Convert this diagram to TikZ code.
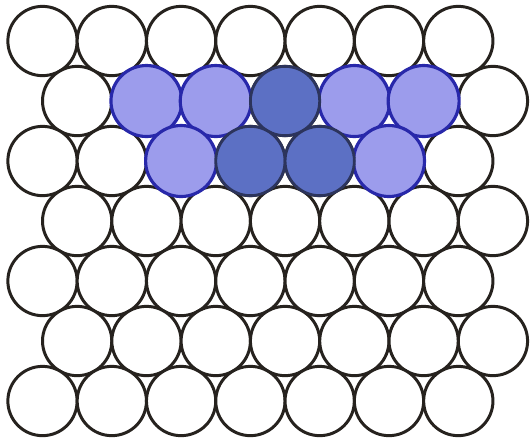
\documentclass[tikz,border=0pt]{standalone}
\usepackage{xcolor}
\usepackage{tikz}
\usetikzlibrary{positioning}
\definecolor{ballline}{RGB}{38,34,30}
\definecolor{lightfill}{RGB}{156,156,236}
\definecolor{lightline}{RGB}{40,40,170}
\definecolor{darkfill}{RGB}{92,112,196}
\definecolor{darkline}{RGB}{44,52,92}
\tikzset{
  ball/.style={draw=ballline, circle, fill=white, line width=1.7pt, minimum size=1.386cm, inner sep=0pt},
  lit/.style={draw=lightline, fill=lightfill, line width=1.8pt},
  deep/.style={draw=darkline, fill=darkfill, line width=1.6pt},
}
\begin{document}
\begin{tikzpicture}[x=0.02cm, y=-0.02cm]
  \useasboundingbox (0,0) rectangle (531,441);
  % close packed layer, 7 rows of 7
  \foreach \r in {1,...,7}
    \foreach \k in {1,...,7}
      \node[ball] (c-\r-\k) at ({42.5+69.3*(\k-1)+34.65*(1-mod(\r,2))}, {41+60*(\r-1)}) {};
  % marked atoms
  \foreach \r/\k in {2/2,2/3,2/5,2/6,3/3,3/6}
    \draw[lit] (c-\r-\k) circle[radius=35.5];
  \foreach \r/\k in {2/4,3/4,3/5}
    \draw[deep] (c-\r-\k) circle[radius=34.65];
\end{tikzpicture}
\end{document}
